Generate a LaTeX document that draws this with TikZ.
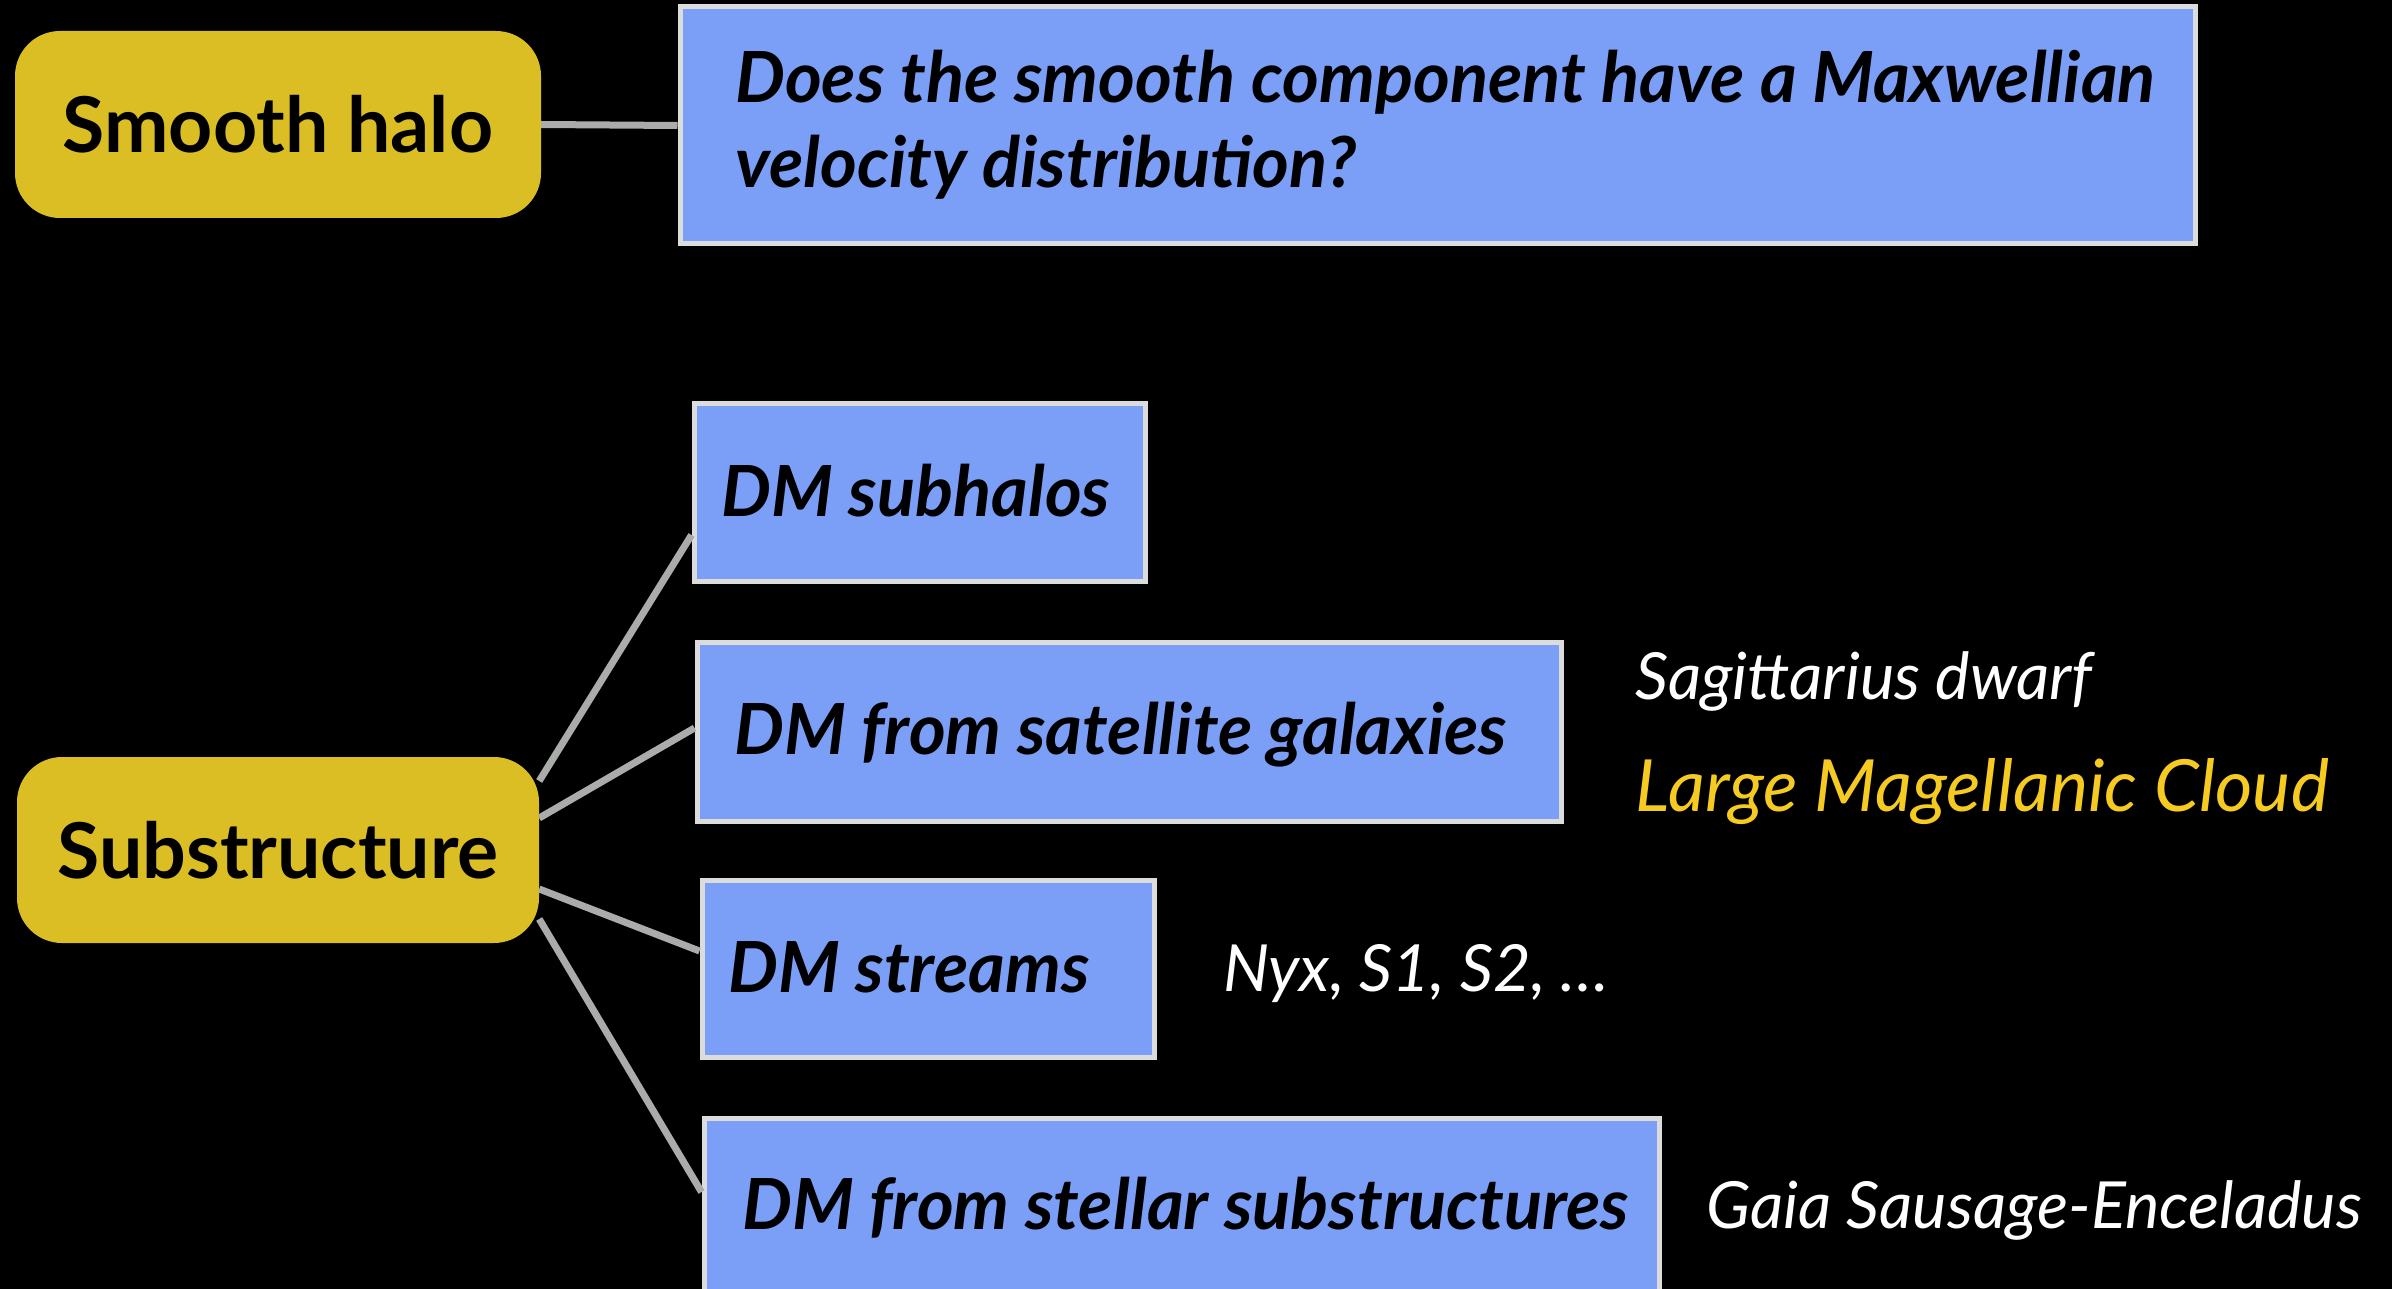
\documentclass[tikz,border=0pt]{standalone}
\usepackage{fontspec}
\setmainfont{Lato}
\definecolor{boxblue}{HTML}{7B9EF7}
\definecolor{boxedge}{HTML}{DCDCDC}
\definecolor{halo}{HTML}{DBBD24}
\definecolor{linkgrey}{HTML}{AAACAA}
\definecolor{lmc}{HTML}{F5CB22}
\begin{document}
\begin{tikzpicture}[x=1pt,y=-1pt,
  yellowbox/.style={fill=halo, rounded corners=45pt, inner sep=0, text=black, font=\fontsize{77}{82}\selectfont\bfseries},
  bluebox/.style={fill=boxblue, draw=boxedge, line width=5pt, inner sep=0},
  boxtext/.style={anchor=base west, inner sep=0, text=black, font=\fontsize{70.5}{80}\selectfont\bfseries\itshape},
  sidetext/.style={anchor=base west, inner sep=0, text=white, font=\fontsize{65}{78}\selectfont\itshape},
  linkline/.style={draw=linkgrey, line width=7pt}]
\useasboundingbox (0,0) rectangle (2392,1289);
\clip (0,0) rectangle (2392,1289);
\fill[black] (0,0) rectangle (2392,1289);

% top row
\node[yellowbox, minimum width=526pt, minimum height=187pt] (sh) at (278,124.5) {Smooth halo};
\node[bluebox, minimum width=1515pt, minimum height=237pt] (q) at (1437.5,125.5) {};
\node[boxtext] (q1) at (735,103) {Does the smooth component have a Maxwellian};
\node[boxtext] (q2) at (735,188) {velocity distribution?};
\draw[linkline] (sh.east) -- (q.west);

% substructure
\node[yellowbox, minimum width=522pt, minimum height=186pt] (sub) at (278,850) {Substructure};

\node[bluebox, minimum width=451pt, minimum height=178pt] (subh) at (919.5,492) {};
\node[boxtext] (subht) at (721,516) {DM subhalos};

\node[bluebox, minimum width=864pt, minimum height=179pt] (sat) at (1129,731.5) {};
\node[boxtext] (satt) at (734,754) {DM from satellite galaxies};

\node[bluebox, minimum width=452pt, minimum height=177pt] (str) at (928,968.5) {};
\node[boxtext] (strt) at (728,992) {DM streams};

\node[bluebox, minimum width=955pt, minimum height=182pt] (stel) at (1181.5,1209) {};
\node[boxtext] (stelt) at (742,1229) {DM from stellar substructures};

\draw[linkline] ([yshift=69pt]sub.east) -- ([yshift=-43pt]subh.west);
\draw[linkline] ([yshift=32pt]sub.east) -- ([yshift=3.5pt]sat.west);
\draw[linkline] ([yshift=-39pt]sub.east) -- ([yshift=17.5pt]str.west);
\draw[linkline] ([yshift=-69pt]sub.east) -- ([yshift=17pt]stel.west);

% side labels
\node[sidetext] (sag) at (1635,699) {Sagittarius dwarf};
\node[sidetext, text=lmc, font=\fontsize{72}{80}\selectfont\itshape] (lmct) at (1635,811) {Large Magellanic Cloud};
\node[sidetext] (nyx) at (1223,991) {Nyx, S1, S2, \dots};
\node[sidetext] (gse) at (1706,1228) {Gaia Sausage-Enceladus};
\end{tikzpicture}
\end{document}
